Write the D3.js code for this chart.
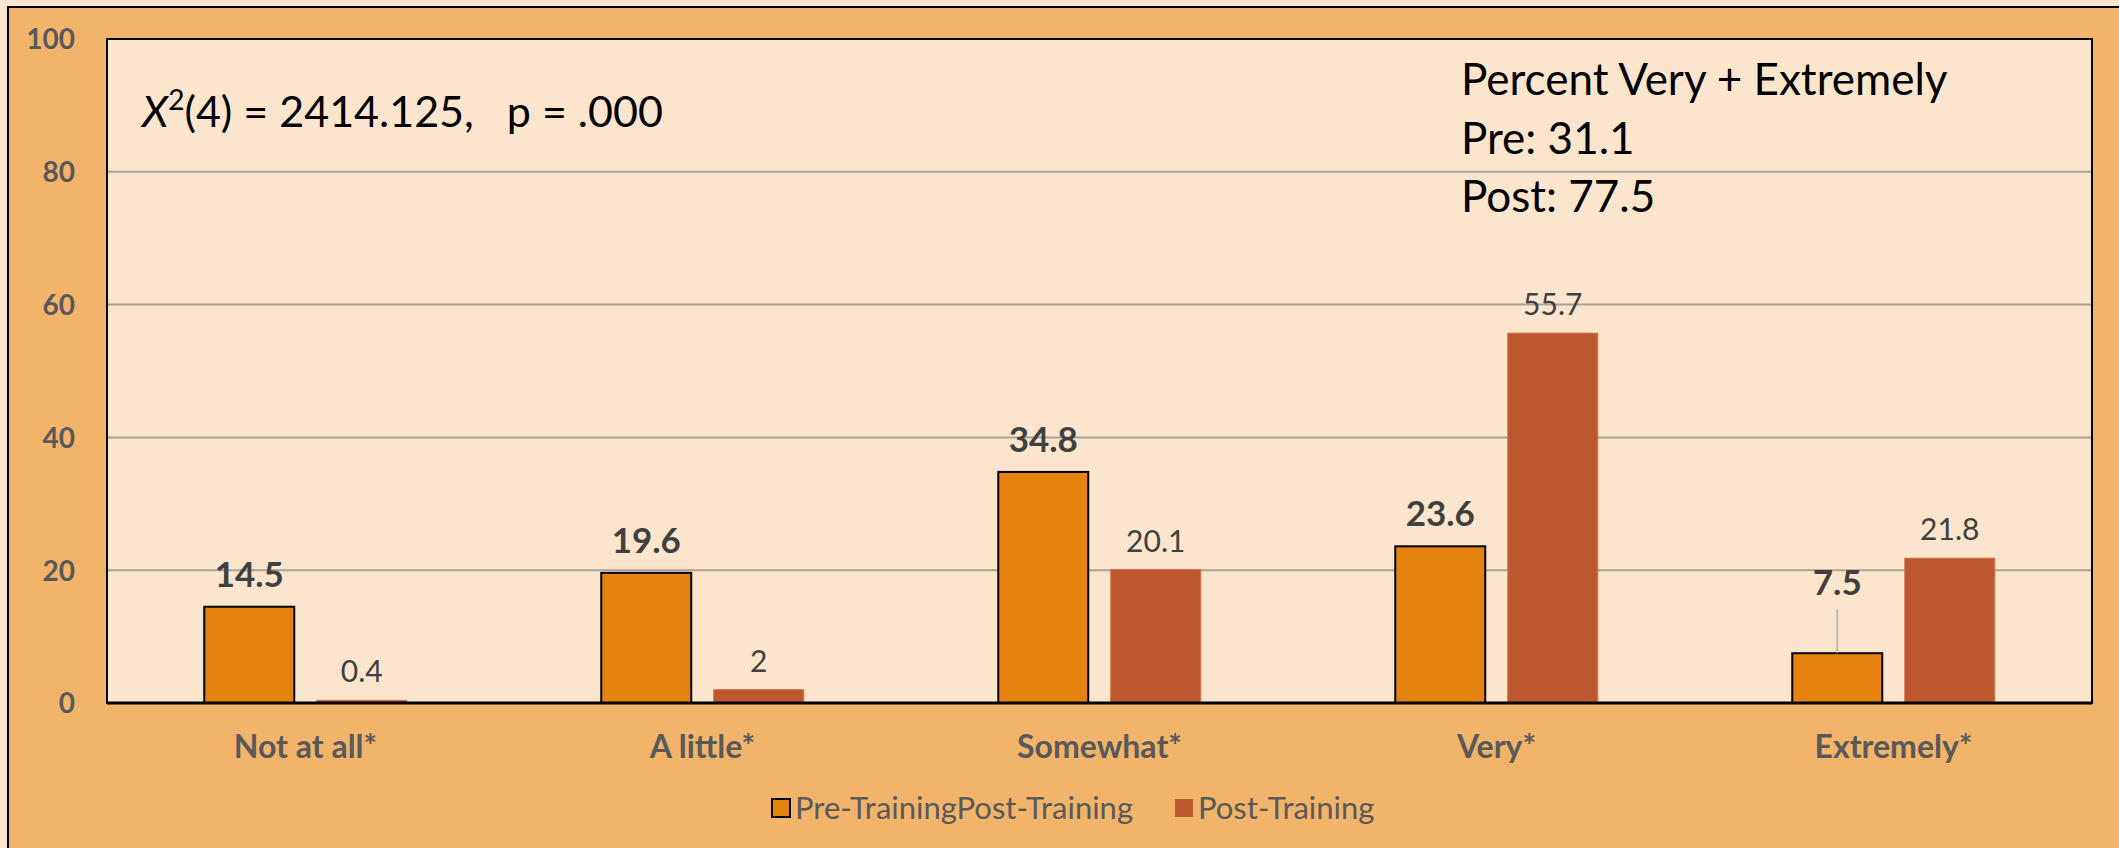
<!DOCTYPE html>
<html>
<head>
<meta charset="utf-8">
<script src="https://cdn.jsdelivr.net/npm/d3@7"></script>
<style>
  html, body { margin: 0; padding: 0; background: #fbe6cd; }
  svg { display: block; }
  text { font-family: Lato, "Open Sans", sans-serif; }
</style>
</head>
<body>
<svg id="chart"></svg>
<script>
// chart data
const categories = ["Not at all*", "A little*", "Somewhat*", "Very*", "Extremely*"];
const seriesNames = ["Pre-TrainingPost-Training", "Post-Training"];
const preTraining = [14.5, 19.6, 34.8, 23.6, 7.5];
const postTraining = [0.4, 2, 20.1, 55.7, 21.8];
const yTicks = [0, 20, 40, 60, 80, 100];
const summaryLines = ["Percent Very + Extremely", "Pre: 31.1", "Post: 77.5"];

const width = 2119, height = 848;
const plot = { left: 107, right: 2092, top: 39, bottom: 703 };

const svg = d3.select("#chart").attr("width", width).attr("height", height);

// outer orange frame
svg.append("rect")
  .attr("x", 8).attr("y", 7)
  .attr("width", width + 20).attr("height", height + 20)
  .attr("fill", "#f2b46b")
  .attr("stroke", "#000").attr("stroke-width", 2);

const x0 = d3.scaleBand()
  .domain(categories)
  .range([plot.left, plot.right])
  .paddingInner(0.49).paddingOuter(0.245);

const x1 = d3.scaleBand()
  .domain(["pre", "post"])
  .range([0, x0.bandwidth()])
  .paddingInner(0.2);

const y = d3.scaleLinear().domain([0, 100]).range([plot.bottom, plot.top]);

// plot area
svg.append("rect")
  .attr("x", plot.left).attr("y", plot.top)
  .attr("width", plot.right - plot.left).attr("height", plot.bottom - plot.top)
  .attr("fill", "#fbe6cd");

// gridlines
svg.append("g")
  .selectAll("line")
  .data(yTicks.filter(d => d > 0 && d < 100))
  .enter().append("line")
  .attr("x1", plot.left).attr("x2", plot.right)
  .attr("y1", d => y(d)).attr("y2", d => y(d))
  .attr("stroke", "#a9a297").attr("stroke-width", 2);

// y axis labels
const yAxis = svg.append("g")
  .attr("transform", `translate(${plot.left},0)`)
  .call(d3.axisLeft(y).tickValues(yTicks).tickSize(0).tickPadding(32));
yAxis.select(".domain").remove();
yAxis.selectAll("text")
  .attr("fill", "#595959")
  .style("font-size", "28px")
  .style("font-weight", "bold")
  .style("font-family", "Lato, sans-serif")
  .attr("dy", "0.35em");

// category labels
svg.append("g")
  .selectAll("text")
  .data(categories)
  .enter().append("text")
  .attr("x", d => x0(d) + x0.bandwidth() / 2)
  .attr("y", 758)
  .attr("text-anchor", "middle")
  .attr("fill", "#595959")
  .style("font-size", "32px")
  .style("font-weight", "bold")
  .text(d => d);

const rows = categories.map((c, i) => ({ cat: c, pre: preTraining[i], post: postTraining[i] }));

const groups = svg.append("g")
  .selectAll("g")
  .data(rows)
  .enter().append("g")
  .attr("transform", d => `translate(${x0(d.cat)},0)`);

// pre bars
groups.append("rect")
  .attr("x", x1("pre"))
  .attr("y", d => y(d.pre))
  .attr("width", x1.bandwidth())
  .attr("height", d => y(0) - y(d.pre))
  .attr("fill", "#e58210")
  .attr("stroke", "#000").attr("stroke-width", 2);

// post bars
groups.append("rect")
  .attr("x", x1("post"))
  .attr("y", d => y(d.post))
  .attr("width", x1.bandwidth())
  .attr("height", d => y(0) - y(d.post))
  .attr("fill", "#bd572d")
  .attr("stroke", "#d0704a").attr("stroke-width", 1);

// pre labels (small bars get lifted with a leader line)
groups.append("text")
  .attr("x", x1("pre") + x1.bandwidth() / 2)
  .attr("y", d => y(d.pre) - (d.pre < 10 ? 58 : 20))
  .attr("text-anchor", "middle")
  .attr("fill", "#404040")
  .style("font-size", "35px")
  .style("font-weight", "bold")
  .text(d => d.pre);

groups.filter(d => d.pre < 10).append("line")
  .attr("x1", x1("pre") + x1.bandwidth() / 2)
  .attr("x2", x1("pre") + x1.bandwidth() / 2)
  .attr("y1", d => y(d.pre) - 44)
  .attr("y2", d => y(d.pre))
  .attr("stroke", "#b0b0b0").attr("stroke-width", 1.5);

groups.append("text")
  .attr("x", x1("post") + x1.bandwidth() / 2)
  .attr("y", d => y(d.post) - 18)
  .attr("text-anchor", "middle")
  .attr("fill", "#404040")
  .style("font-size", "30px")
  .text(d => d.post);

// plot border, heavier baseline
svg.append("rect")
  .attr("x", plot.left).attr("y", plot.top)
  .attr("width", plot.right - plot.left).attr("height", plot.bottom - plot.top)
  .attr("fill", "none")
  .attr("stroke", "#000").attr("stroke-width", 2);
svg.append("line")
  .attr("x1", plot.left).attr("x2", plot.right)
  .attr("y1", y(0)).attr("y2", y(0))
  .attr("stroke", "#000").attr("stroke-width", 3);

// chi-square annotation
const stat = svg.append("text")
  .attr("x", 142).attr("y", 127)
  .attr("fill", "#000")
  .style("font-size", "43px");
stat.append("tspan").style("font-style", "italic").text("X");
stat.append("tspan").attr("dy", -17).style("font-size", "28px").text("2");
stat.append("tspan").attr("dy", 17).text("(4) = 2414.125,\u00a0\u00a0\u00a0p = .000");

// summary annotation
svg.append("g")
  .selectAll("text")
  .data(summaryLines)
  .enter().append("text")
  .attr("x", 1461)
  .attr("y", (d, i) => 95 + i * 58.5)
  .attr("fill", "#000")
  .style("font-size", "44px")
  .text(d => d);

// legend
const legend = [
  { name: seriesNames[0], fill: "#e58210", stroke: "#000", x: 772 },
  { name: seriesNames[1], fill: "#bd572d", stroke: "none", x: 1175 }
];
const lg = svg.append("g").selectAll("g").data(legend).enter().append("g")
  .attr("transform", d => `translate(${d.x},808)`);
lg.append("rect")
  .attr("x", 0).attr("y", -9).attr("width", 18).attr("height", 18)
  .attr("fill", d => d.fill)
  .attr("stroke", d => d.stroke).attr("stroke-width", 2);
lg.append("text")
  .attr("x", 23).attr("dy", "0.35em")
  .attr("fill", "#595959")
  .style("font-size", "31px")
  .text(d => d.name);
</script>
</body>
</html>
